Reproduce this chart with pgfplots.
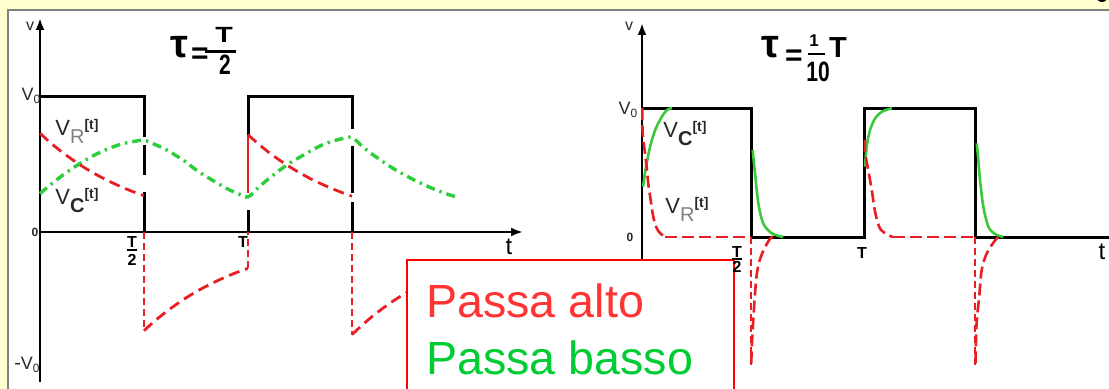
\documentclass[border=0pt]{standalone}
\usepackage{fontspec}
\setmainfont{Liberation Sans}
\usepackage{graphicx}
\usepackage{pgfplots}
\pgfplotsset{compat=1.18}
\usetikzlibrary{arrows.meta}

\definecolor{bgyellow}{RGB}{255,255,208}
\definecolor{framegray}{RGB}{128,128,128}
\definecolor{vr}{RGB}{232,30,36}
\definecolor{vc}{RGB}{45,205,60}
\definecolor{vcs}{RGB}{60,200,60}
\definecolor{altored}{RGB}{255,51,51}
\definecolor{bassogreen}{RGB}{0,204,51}
\definecolor{lbl}{RGB}{40,40,40}

\pgfplotsset{
  rcaxis/.style={scale only axis, axis lines=none, ticks=none, clip=false, anchor=south west},
  sq/.style={black, line width=1.5pt, mark=none},
  axl/.style={black, line width=1.3pt, mark=none, -{Latex[length=6pt,width=4.5pt]}},
  vrthick/.style={vr, line width=1.4pt, mark=none, dash pattern=on 5.5pt off 3pt},
  vrthin/.style={vr, line width=1pt, mark=none, dash pattern=on 3.5pt off 2pt},
  vcdd/.style={vc, line width=1.7pt, mark=none, dash pattern=on 4.5pt off 2.5pt on 1.2pt off 2.5pt},
  vrr/.style={vr, line width=1.3pt, mark=none, dash pattern=on 6pt off 2.5pt},
  vcr/.style={vcs, line width=1.3pt, mark=none},
}

% V with a subscript and the time argument
\newcommand{\vlab}[1]{{\fontsize{11}{11}\selectfont V}\raisebox{-3.8pt}{\fontsize{10}{10}\selectfont #1}\raisebox{3pt}{\fontsize{7}{7}\selectfont\bfseries [t]}}
\newcommand{\vzero}{{\fontsize{9}{9}\selectfont V}\raisebox{-1.5pt}{\fontsize{6}{6}\selectfont 0}}

\begin{document}
\begin{tikzpicture}
\useasboundingbox (0,0) rectangle (554.5pt,194.5pt);
\clip (0,0) rectangle (554.5pt,194.5pt);

% page background and frame
\begin{scope}[x=0.5pt,y=0.5pt]
\fill[bgyellow] (0,0) rectangle (1109,389);
\fill[white] (8,0) rectangle (1109,379);
\draw[framegray, line width=1pt] (7.5,0) -- (7.5,379) -- (1109,379);
\fill[black] (1102,393) circle (6);
\end{scope}

% ---------- tau = T/2 ----------
\begin{axis}[rcaxis, at={(20pt,3.5pt)}, width=241.5pt, height=182pt,
  xmin=0, xmax=2.322, ymin=-1.111, ymax=1.585]
% square wave (broken where the curves cross it)
\addplot[sq] coordinates {(0,1)(0.5,1)(0.5,0.704)};
\addplot[sq] coordinates {(0.5,0.644)(0.5,0.422)};
\addplot[sq] coordinates {(0.5,0.296)(0.5,0)};
\addplot[sq] coordinates {(1,0)(1,0.163)};
\addplot[sq] coordinates {(1,0.72)(1,1)(1.5,1)(1.5,0.76)};
\addplot[sq] coordinates {(1.5,0.64)(1.5,0.29)};
\addplot[sq] coordinates {(1.5,0.22)(1.5,0)};
% axes
\addplot[axl] coordinates {(0,-1.111)(0,1.585)};
\addplot[axl] coordinates {(0,0)(2.322,0)};
% V_C(t)
\addplot[vcdd, smooth] coordinates {
  (0,0.285)(0.05,0.35)(0.1,0.41)(0.15,0.465)(0.2,0.515)(0.25,0.56)(0.3,0.598)
  (0.35,0.63)(0.4,0.655)(0.45,0.67)(0.5,0.68)
  (0.55,0.65)(0.6,0.615)(0.65,0.57)(0.7,0.52)(0.75,0.46)(0.8,0.41)(0.85,0.365)
  (0.9,0.32)(0.95,0.285)(1,0.26)
  (1.05,0.33)(1.1,0.395)(1.15,0.455)(1.2,0.51)(1.25,0.555)(1.3,0.6)(1.35,0.64)
  (1.4,0.67)(1.45,0.69)(1.5,0.70)
  (1.55,0.633)(1.6,0.573)(1.65,0.519)(1.7,0.469)(1.75,0.425)(1.8,0.384)
  (1.85,0.348)(1.9,0.314)(1.95,0.285)(2.0,0.26)};
% V_R(t)
\addplot[vrthick, smooth] coordinates {
  (0,0.731)(0.05,0.661)(0.1,0.599)(0.15,0.542)(0.2,0.490)(0.25,0.443)
  (0.3,0.401)(0.35,0.363)(0.4,0.328)(0.45,0.297)(0.5,0.269)};
\addplot[vrthick, smooth] coordinates {
  (0.5,-0.731)(0.55,-0.661)(0.6,-0.599)(0.65,-0.542)(0.7,-0.490)(0.75,-0.443)
  (0.8,-0.401)(0.85,-0.363)(0.9,-0.328)(0.95,-0.297)(1,-0.269)};
\addplot[vrthick, smooth] coordinates {
  (1,0.72)(1.05,0.652)(1.1,0.590)(1.15,0.534)(1.2,0.483)(1.25,0.437)
  (1.3,0.395)(1.35,0.358)(1.4,0.324)(1.45,0.293)(1.5,0.265)};
\addplot[vrthick, smooth] coordinates {
  (1.5,-0.760)(1.55,-0.688)(1.6,-0.622)(1.65,-0.563)(1.7,-0.509)(1.75,-0.461)
  (1.8,-0.417)(1.85,-0.377)(1.9,-0.341)(1.95,-0.309)(2.0,-0.280)};
\addplot[vrthin] coordinates {(0.5,0)(0.5,-0.731)};
\addplot[vrthin] coordinates {(1,-0.269)(1,0)};
\addplot[vrthin] coordinates {(1.5,0)(1.5,-0.760)};
\addplot[vr, line width=1.4pt, mark=none] coordinates {(1,0.29)(1,0.72)};
\end{axis}

% ---------- tau = T/10 ----------
\begin{axis}[rcaxis, at={(321pt,0pt)}, width=235pt, height=183pt,
  xmin=0, xmax=2.117, ymin=-1.178, ymax=1.659]
\addplot[sq] coordinates {(0,1)(0.492,1)(0.492,0)(1.004,0)(1.004,1)(1.5,1)(1.5,0)(2.2,0)};
\addplot[axl] coordinates {(0,-1.178)(0,1.659)};
% V_C(t)
\addplot[vcr, smooth] coordinates {
  (0.005,0.39)(0.012,0.48)(0.021,0.57)(0.032,0.665)(0.044,0.75)(0.062,0.84)
  (0.081,0.907)(0.1,0.96)(0.117,0.99)(0.135,1.0)};
\addplot[vcr, smooth] coordinates {
  (0.4986,0.674)(0.509,0.494)(0.524,0.261)(0.546,0.106)(0.584,0.029)(0.636,0.0)};
\addplot[vcr, smooth] coordinates {
  (1.0045,0.545)(1.012,0.70)(1.027,0.829)(1.05,0.92)(1.08,0.971)(1.109,0.99)(1.125,1.0)};
\addplot[vcr, smooth] coordinates {
  (1.5077,0.726)(1.515,0.597)(1.5225,0.442)(1.5375,0.235)(1.56,0.08)(1.59,0.023)(1.6275,0.0)};
% V_R(t)
\addplot[vrr, smooth] coordinates {
  (0.002,1.0)(0.002,0.853)(0.006,0.752)(0.0135,0.651)(0.021,0.543)(0.028,0.419)
  (0.039,0.287)(0.051,0.155)(0.066,0.07)(0.081,0.031)(0.104,0.0)};
\addplot[vrr] coordinates {(0.104,0.0)(0.492,0.0)};
\addplot[vrr, smooth] coordinates {
  (0.492,-0.98)(0.496,-0.80)(0.503,-0.59)(0.514,-0.333)(0.526,-0.204)(0.548,-0.10)(0.578,-0.01)(0.595,0)};
\addplot[vrthin] coordinates {(0.489,0)(0.489,-1.0)};
\addplot[vrr, smooth] coordinates {
  (1.0045,0.752)(1.0045,0.659)(1.019,0.519)(1.035,0.364)(1.05,0.194)(1.072,0.066)(1.109,0.016)(1.13,0)};
\addplot[vrr] coordinates {(1.13,0)(1.5,0)};
\addplot[vrr, smooth] coordinates {
  (1.502,-0.979)(1.507,-0.669)(1.519,-0.463)(1.53,-0.256)(1.553,-0.126)(1.598,-0.01)(1.62,0)};
\addplot[vrthin] coordinates {(1.5,0)(1.5,-1.0)};
\end{axis}

\begin{scope}[x=0.5pt,y=0.5pt]
% labels of the first plot
\node[lbl, font=\fontsize{8}{8}\selectfont] at (30,363) {v};
\node[lbl] at (31,293) {\vzero};
\node[lbl, font=\fontsize{6}{6}\selectfont\bfseries] at (35,157) {0};
\node[lbl] at (27,24) {-\vzero};
\node[font=\fontsize{8}{8}\selectfont\bfseries, inner sep=0] at (132,147) {T};
\draw[black, line width=1pt] (127,139) -- (137,139);
\node[font=\fontsize{8}{8}\selectfont\bfseries, inner sep=0] at (132,129) {2};
\node[font=\fontsize{8}{8}\selectfont\bfseries] at (243,147) {T};
\node[font=\fontsize{12}{12}\selectfont] at (509,142) {t};
\node[lbl, anchor=base west, inner sep=0] at (55,253) {\vlab{\color{gray}R}};
\node[lbl, anchor=base west, inner sep=0] at (55,184) {\vlab{\bfseries C}};
% tau = T/2
\node[anchor=base, inner sep=0, font=\fontsize{20}{20}\selectfont\bfseries] at (179,331) {τ};
\node[anchor=base, inner sep=0, font=\fontsize{15}{15}\selectfont\bfseries] at (200,325) {=};
\node[anchor=base, inner sep=0, font=\fontsize{11}{11}\selectfont\bfseries] at (224,346) {\scalebox{1.3}[1]{T}};
\draw[black, line width=1.5pt] (205,337.5) -- (236,337.5);
\node[anchor=base, inner sep=0, font=\fontsize{14}{14}\selectfont\bfseries] at (225,314) {\scalebox{0.75}[1]{2}};

% labels of the second plot
\node[lbl, font=\fontsize{8}{8}\selectfont] at (629,363) {v};
\node[lbl] at (628,279) {\vzero};
\node[lbl, font=\fontsize{6}{6}\selectfont\bfseries] at (630,152) {0};
\node[font=\fontsize{8}{8}\selectfont\bfseries] at (862,136) {T};
\node[font=\fontsize{12}{12}\selectfont] at (1102,137) {t};
\node[lbl, anchor=base west, inner sep=0] at (663,251) {\vlab{\bfseries C}};
\node[lbl, anchor=base west, inner sep=0] at (665,175) {\vlab{\color{gray}R}};
% tau = T/10
\node[anchor=base, inner sep=0, font=\fontsize{20}{20}\selectfont\bfseries] at (770,331) {τ};
\node[anchor=base, inner sep=0, font=\fontsize{15}{15}\selectfont\bfseries] at (794,323) {=};
\node[anchor=base, inner sep=0, font=\fontsize{8.5}{8.5}\selectfont\bfseries] at (814,342) {1};
\draw[black, line width=1.2pt] (808,335) -- (825,335);
\node[anchor=base, inner sep=0, font=\fontsize{14}{14}\selectfont\bfseries] at (818,307) {\scalebox{0.75}[1]{10}};
\node[anchor=base, inner sep=0, font=\fontsize{14.5}{14.5}\selectfont\bfseries] at (838,331) {T};

% legend box
\filldraw[fill=white, draw=red, line width=1pt] (407,-6) rectangle (734,129);
\node[anchor=base west, inner sep=0, text=altored, font=\fontsize{23.3}{23.3}\selectfont] at (426,71) {Passa alto};
\node[anchor=base west, inner sep=0, text=bassogreen, font=\fontsize{23.3}{23.3}\selectfont] at (426,14) {Passa basso};
\node[font=\fontsize{8}{8}\selectfont\bfseries, inner sep=0] at (737,137) {T};
\draw[black, line width=1pt] (732,130) -- (742,130);
\node[font=\fontsize{8}{8}\selectfont\bfseries, inner sep=0] at (737,122) {2};
\end{scope}
\end{tikzpicture}
\end{document}
